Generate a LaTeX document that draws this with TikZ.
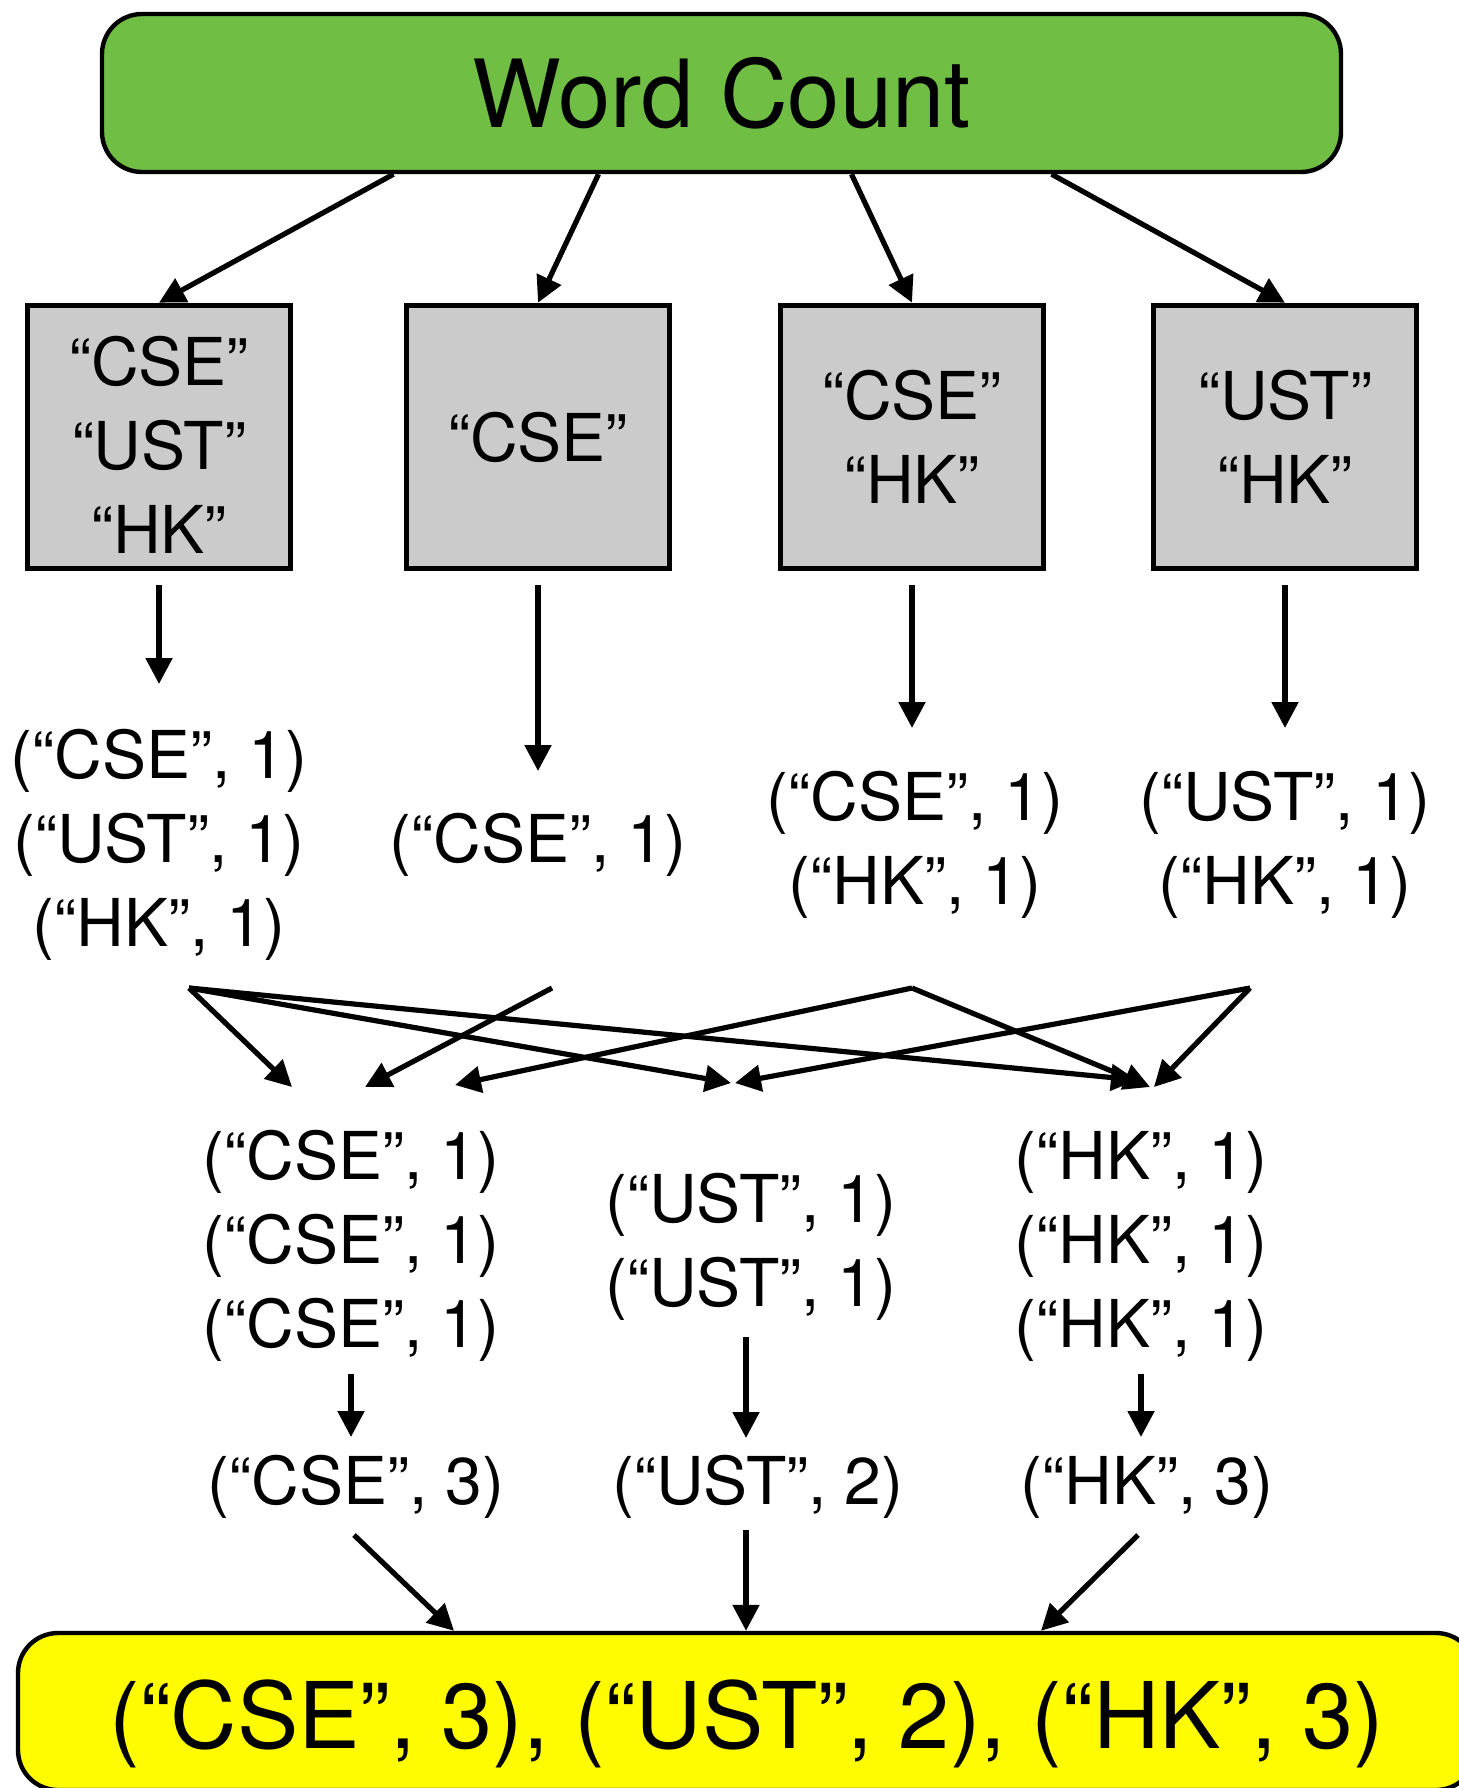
\documentclass[tikz,border=0pt]{standalone}
\usepackage{fontspec}
\setmainfont{TeX Gyre Heros}
\usetikzlibrary{arrows.meta,calc}

\definecolor{countgreen}{RGB}{112,191,68}
\definecolor{splitgray}{RGB}{203,203,203}
\definecolor{resultyellow}{RGB}{255,251,0}

\newcommand{\pairfont}{\fontsize{33}{42}\selectfont}
\newcommand{\titlefont}{\fontsize{47}{56}\selectfont}
\newcommand{\resultfont}{\fontsize{46}{55}\selectfont}

\begin{document}
\begin{tikzpicture}[x=0.5pt,y=0.5pt,yscale=-1,
  arr/.style={line width=2.6pt,-{Triangle[length=13pt,width=13pt]}},
  splitbox/.style={draw,line width=2.8pt,fill=splitgray,minimum width=131.5pt,minimum height=131.5pt,align=center,font=\pairfont},
  pairs/.style={align=center,font=\pairfont,inner sep=0pt},
  roundbox/.style={draw,line width=2.2pt,rounded corners=20pt,inner sep=0pt}]
\useasboundingbox (0,0) rectangle (1459,1788);

% job
\node[roundbox,fill=countgreen,font=\titlefont,minimum width=619.5pt,minimum height=79pt] (wc) at (721.5,93) {Word Count};

% input splits
\node[splitbox] (b1) at (159,437) {\rule{0pt}{32pt}“CSE”\\“UST”\\“HK”};
\node[splitbox] (b2) at (538,437) {“CSE”};
\node[splitbox] (b3) at (912,437) {“CSE”\\“HK”};
\node[splitbox] (b4) at (1285,437) {“UST”\\“HK”};

\draw[arr] ($(wc.south)+(-328,0)$) -- (b1.north);
\draw[arr] ($(wc.south)+(-123,0)$) -- (b2.north);
\draw[arr] ($(wc.south)+(130,0)$) -- (b3.north);
\draw[arr] ($(wc.south)+(330,0)$) -- (b4.north);

% map output
\node[pairs] (m1) at (159,845) {(“CSE”, 1)\\(“UST”, 1)\\(“HK”, 1)};
\node[pairs] (m2) at (538,845) {(“CSE”, 1)};
\node[pairs] (m3) at (915,845) {(“CSE”, 1)\\(“HK”, 1)};
\node[pairs] (m4) at (1285,845) {(“UST”, 1)\\(“HK”, 1)};

\draw[arr,shorten <=74pt,shorten >=80.5pt] (b1.center) -- (b1.center |- m1.center);
\draw[arr,shorten <=74pt,shorten >=37pt] (b2.center) -- (b2.center |- m2.center);
\draw[arr,shorten <=74pt,shorten >=58.5pt] (b3.center) -- (b3.center |- m3.center);
\draw[arr,shorten <=74pt,shorten >=58.5pt] (b4.center) -- (b4.center |- m4.center);

% shuffle
\coordinate (s1) at (189,988);
\coordinate (s2) at (552,988);
\coordinate (s3) at (912,988);
\coordinate (s4) at (1250,988);
\coordinate (cse-a) at (292,1087);
\coordinate (cse-b) at (365,1087);
\coordinate (cse-c) at (455,1085);
\coordinate (ust-a) at (731,1083);
\coordinate (ust-b) at (735,1083);
\coordinate (hk-a) at (1137,1080);
\coordinate (hk-b) at (1150,1087);
\coordinate (hk-c) at (1154,1087);

\draw[arr] (s1) -- (cse-a);
\draw[arr] (s1) -- (ust-a);
\draw[arr] (s1) -- (hk-a);
\draw[arr] (s2) -- (cse-b);
\draw[arr] (s3) -- (cse-c);
\draw[arr] (s3) -- (hk-b);
\draw[arr] (s4) -- (ust-b);
\draw[arr] (s4) -- (hk-c);

% reduce input
\node[pairs] (r1) at (351,1246) {(“CSE”, 1)\\(“CSE”, 1)\\(“CSE”, 1)};
\node[pairs] (r2) at (751,1247) {(“UST”, 1)\\(“UST”, 1)};
\node[pairs] (r3) at (1141,1246) {(“HK”, 1)\\(“HK”, 1)\\(“HK”, 1)};

% reduce output
\node[pairs] (o1) at (356,1487) {(“CSE”, 3)};
\node[pairs] (o2) at (758,1487) {(“UST”, 2)};
\node[pairs] (o3) at (1147,1487) {(“HK”, 3)};

\draw[arr,shorten <=64pt,shorten >=25pt] (r1.center) -- (r1.center |- o1.center);
\draw[arr,shorten <=45pt,shorten >=24.5pt] ($(r2.center)+(-5,0)$) -- ($(r2.center |- o2.center)+(-5,0)$);
\draw[arr,shorten <=64pt,shorten >=25pt] (r3.center) -- (r3.center |- o3.center);

% final result
\node[roundbox,fill=resultyellow,font=\resultfont,text height=40pt,text depth=3.5pt,minimum width=729pt,minimum height=78.5pt] (fin) at (747,1711.5) {(“CSE”, 3), (“UST”, 2), (“HK”, 3)};

\draw[arr] ($(o1.center)+(-2,48)$) -- ($(fin.north)+(-293,0)$);
\draw[arr] ($(fin.north)+(-1,-101)$) -- ($(fin.north)+(-1,0)$);
\draw[arr] ($(o3.center)+(-9,48)$) -- ($(fin.north)+(294,0)$);

\end{tikzpicture}
\end{document}
